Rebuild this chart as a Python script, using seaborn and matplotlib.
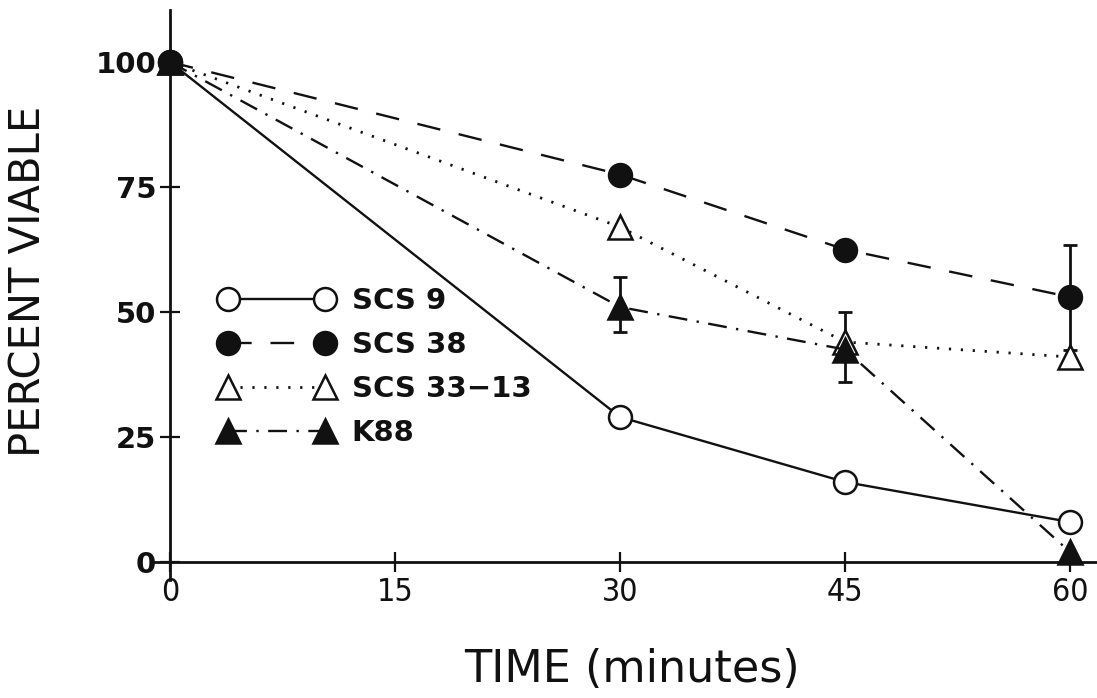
import matplotlib
matplotlib.use("Agg")
import matplotlib.pyplot as plt
import seaborn as sns
import numpy as np
import pandas as pd
from matplotlib.lines import Line2D

sns.set_theme(style="white")
plt.rcParams['font.family'] = ['DejaVu Sans']

# ---- data ----
time_min = [0, 30, 45, 60]
series_names = ["SCS 9", "SCS 38", "SCS 33\u221213", "K88"]
scs9 = [100, 29, 16, 8]
scs38 = [100, 77.5, 62.5, 53]
scs33_13 = [100, 67, 44, 41]
k88 = [100, 51, 42.5, 2]

# error bars (time, low, high)
err_k88_t = [30, 45]
err_k88_low = [46, 36]
err_k88_high = [57, 50]
err_scs38_t = [60]
err_scs38_low = [42.5]
err_scs38_high = [63.5]

x_ticks = [0, 15, 30, 45, 60]
y_ticks = [0, 25, 50, 75, 100]

fig = plt.figure(figsize=(10.97, 6.98), dpi=100)
ax = fig.add_axes([155/1097, (698-580)/698, 942/1097, 570/698])

black = "#111111"
styles = {
    "SCS 9": dict(linestyle="-", marker="o", mfc="white", lw=1.7, ms=16.5),
    "SCS 38": dict(linestyle=(0, (10, 8)), marker="o", mfc=black, lw=1.7, ms=16.5),
    "SCS 33\u221213": dict(linestyle=(0, (0.8, 3.5)), marker="^", mfc="white", lw=2.0, ms=17),
    "K88": dict(linestyle=(0, (8, 4, 1, 4)), marker="^", mfc=black, lw=1.7, ms=17),
}
values = {"SCS 9": scs9, "SCS 38": scs38, "SCS 33\u221213": scs33_13, "K88": k88}
zorders = {"SCS 9": 3, "SCS 33\u221213": 4, "K88": 5, "SCS 38": 6}


def draw_err(t, lo, hi):
    mid = [(l + h) / 2 for l, h in zip(lo, hi)]
    ax.errorbar(t, mid, yerr=[[m - l for m, l in zip(mid, lo)], [h - m for m, h in zip(mid, hi)]],
                fmt="none", ecolor=black, elinewidth=2, capsize=5, capthick=2, zorder=2)


draw_err(err_k88_t, err_k88_low, err_k88_high)
draw_err(err_scs38_t, err_scs38_low, err_scs38_high)

handles = []
for name in series_names:
    st = styles[name]
    df = pd.DataFrame({"t": time_min, "v": values[name]})
    sns.lineplot(data=df, x="t", y="v", ax=ax, color=black, linewidth=st["lw"],
                 linestyle=st["linestyle"], marker=st["marker"], markersize=st["ms"],
                 markerfacecolor=st["mfc"], markeredgecolor=black, markeredgewidth=1.8,
                 zorder=zorders[name], legend=False)
    handles.append(Line2D([0], [0], color=black, linewidth=st["lw"], linestyle=st["linestyle"],
                          marker=st["marker"], markersize=st["ms"], markerfacecolor=st["mfc"],
                          markeredgecolor=black, markeredgewidth=1.8))

ax.set_xlim(-1, 61.8)
ax.set_ylim(-3.6, 110.4)
ax.spines["left"].set_position(("data", 0))
ax.spines["bottom"].set_position(("data", 0))
ax.spines["top"].set_visible(False)
ax.spines["right"].set_visible(False)
for s in ["left", "bottom"]:
    ax.spines[s].set_linewidth(2)
    ax.spines[s].set_color(black)

ax.set_xticks(x_ticks)
ax.set_yticks(y_ticks)
ax.set_xticklabels([str(v) for v in x_ticks], fontsize=23, fontstretch="condensed")
ax.set_yticklabels([str(v) for v in y_ticks], fontsize=21, fontweight="bold")
ax.tick_params(axis="both", direction="inout", length=14, width=1.6, color=black,
               labelcolor=black, bottom=True, left=True)
ax.tick_params(axis="x", pad=4)
ax.tick_params(axis="y", pad=3)

ax.set_xlabel("TIME (minutes)", fontsize=32, color=black)
ax.set_ylabel("PERCENT VIABLE", fontsize=30, color=black)
ax.xaxis.set_label_coords((632 - 155) / 942, (580 - 670) / 570)
ax.yaxis.set_label_coords((29 - 155) / 942, (580 - 281) / 570)
ax.xaxis.label.set_va("center")
ax.yaxis.label.set_va("center")

leg = ax.legend(handles, series_names, loc="upper left",
                bbox_to_anchor=((219 - 155) / 942, (580 - 287) / 570),
                frameon=False, numpoints=2, handlelength=3.95, fontsize=21,
                labelspacing=0.55, handletextpad=0.6, borderaxespad=0, borderpad=0)
for t in leg.get_texts():
    t.set_fontweight("bold")
    t.set_color(black)

ax.grid(False)
fig.savefig("out.png", dpi=100, facecolor="white")
